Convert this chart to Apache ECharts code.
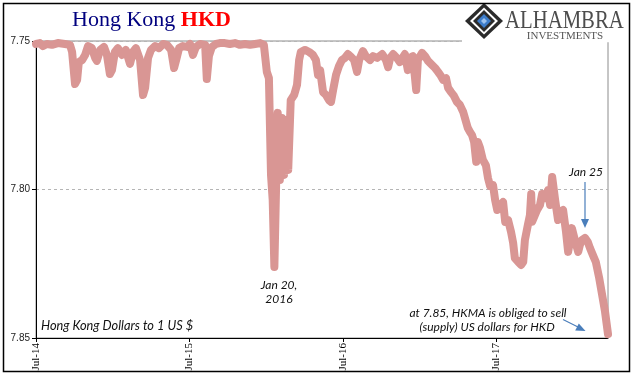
<!DOCTYPE html>
<html>
<head>
<meta charset="utf-8">
<script src="https://cdn.jsdelivr.net/npm/echarts@6/dist/echarts.min.js"></script>
<style>html,body{margin:0;padding:0;background:#fff}#c{width:641px;height:381px}</style>
</head>
<body>
<div id="c"></div>
<script>
const dates = [
'2014-07-01','2014-07-10','2014-07-17','2014-07-27','2014-08-08','2014-08-22','2014-09-08','2014-09-20','2014-09-25','2014-10-02',
'2014-10-07','2014-10-11','2014-10-19','2014-10-26','2014-11-02','2014-11-11','2014-11-19','2014-11-23','2014-12-01','2014-12-10',
'2014-12-17','2014-12-24','2014-12-29','2015-01-05','2015-01-12','2015-01-22','2015-01-31','2015-02-10','2015-02-17','2015-02-24',
'2015-03-06','2015-03-13','2015-03-18','2015-03-25','2015-04-01','2015-04-11','2015-04-20','2015-04-30','2015-05-09','2015-05-19',
'2015-05-26','2015-05-31','2015-06-07','2015-06-16','2015-06-26','2015-07-03','2015-07-10','2015-07-17','2015-07-27','2015-08-08',
'2015-08-12','2015-08-17','2015-08-24','2015-09-03','2015-09-12','2015-09-24','2015-10-06','2015-10-18','2015-10-30','2015-11-11',
'2015-11-23','2015-12-05','2015-12-17','2015-12-26','2016-01-02','2016-01-07','2016-01-12','2016-01-16','2016-01-20','2016-01-26',
'2016-01-28','2016-02-02','2016-02-07','2016-02-12','2016-02-17','2016-02-22','2016-02-28','2016-03-07','2016-03-14','2016-03-19',
'2016-03-23','2016-04-02','2016-04-12','2016-04-21','2016-04-28','2016-05-03','2016-05-08','2016-05-15','2016-05-22','2016-05-29',
'2016-06-03','2016-06-08','2016-06-15','2016-06-22','2016-06-29','2016-07-06','2016-07-13','2016-07-21','2016-07-28','2016-08-04',
'2016-08-09','2016-08-18','2016-08-25','2016-09-04','2016-09-11','2016-09-21','2016-10-03','2016-10-12','2016-10-17','2016-10-22',
'2016-10-29','2016-11-07','2016-11-14','2016-11-26','2016-12-03','2016-12-08','2016-12-15','2016-12-23','2016-12-27','2017-01-06',
'2017-01-13','2017-01-20','2017-01-30','2017-02-06','2017-02-13','2017-02-20','2017-02-25','2017-03-04','2017-03-09','2017-03-16',
'2017-03-23','2017-03-30','2017-04-06','2017-04-14','2017-04-18','2017-04-25','2017-04-30','2017-05-05','2017-05-10','2017-05-15',
'2017-05-19','2017-05-24','2017-05-31','2017-06-07','2017-06-12','2017-06-17','2017-06-24','2017-06-29','2017-07-04','2017-07-11',
'2017-07-18','2017-07-23','2017-07-30','2017-08-06','2017-08-11','2017-08-15','2017-08-23','2017-08-30','2017-09-04','2017-09-08',
'2017-09-15','2017-09-20','2017-09-23','2017-09-25','2017-10-02','2017-10-07','2017-10-14','2017-10-19','2017-10-26','2017-11-02',
'2017-11-07','2017-11-12','2017-11-19','2017-11-26','2017-12-01','2017-12-08','2017-12-15','2017-12-20','2017-12-25','2017-12-29',
'2018-01-05','2018-01-13','2018-01-17','2018-01-22','2018-01-29','2018-02-05','2018-02-10','2018-02-17','2018-02-24','2018-03-04',
'2018-03-11','2018-03-18','2018-03-25'
];
const hkdPerUsd = [
7.7510,7.7507,7.7517,7.7510,7.7513,7.7507,7.7510,7.7513,7.7537,7.7645,
7.7631,7.7571,7.7564,7.7547,7.7517,7.7524,7.7557,7.7567,7.7530,7.7520,
7.7547,7.7611,7.7598,7.7537,7.7524,7.7547,7.7530,7.7577,7.7537,7.7524,
7.7564,7.7682,7.7658,7.7557,7.7530,7.7517,7.7524,7.7510,7.7513,7.7530,
7.7591,7.7564,7.7524,7.7517,7.7520,7.7510,7.7547,7.7520,7.7510,7.7513,
7.7628,7.7551,7.7520,7.7510,7.7507,7.7507,7.7510,7.7507,7.7513,7.7510,
7.7513,7.7510,7.7507,7.7513,7.7604,7.7625,7.7951,7.8035,7.8261,7.7867,
7.7742,7.7968,7.7759,7.7951,7.7766,7.7934,7.7699,7.7682,7.7648,7.7564,
7.7537,7.7530,7.7537,7.7547,7.7564,7.7614,7.7598,7.7672,7.7682,7.7699,
7.7705,7.7665,7.7614,7.7584,7.7564,7.7557,7.7544,7.7554,7.7564,7.7604,
7.7564,7.7534,7.7551,7.7564,7.7551,7.7557,7.7544,7.7564,7.7588,7.7557,
7.7544,7.7557,7.7571,7.7544,7.7598,7.7557,7.7551,7.7665,7.7564,7.7540,
7.7551,7.7567,7.7581,7.7591,7.7604,7.7618,7.7631,7.7625,7.7658,7.7672,
7.7685,7.7705,7.7715,7.7739,7.7759,7.7793,7.7806,7.7817,7.7840,7.7907,
7.7840,7.7860,7.7901,7.7918,7.7961,7.7988,7.7985,7.8035,7.8069,7.8052,
7.8042,7.8109,7.8103,7.8143,7.8180,7.8231,7.8244,7.8254,7.8244,7.8170,
7.8120,7.8086,7.8015,7.8109,7.8086,7.8069,7.8052,7.8015,7.8029,7.8002,
7.8052,7.7958,7.8035,7.8103,7.8076,7.8069,7.8143,7.8210,7.8170,7.8130,
7.8170,7.8210,7.8187,7.8170,7.8163,7.8177,7.8197,7.8221,7.8244,7.8298,
7.8355,7.8412,7.8487
];
const tickDates = ['2014-07-01','2015-07-01','2016-07-01','2017-07-01'];
const tickLabels = ['Jul-14','Jul-15','Jul-16','Jul-17'];

function toTime(s){ return Date.UTC(+s.slice(0,4), +s.slice(5,7)-1, +s.slice(8,10)); }
const seriesData = dates.map((d,i)=>[toTime(d), hkdPerUsd[i]]);
const tickTimes = tickDates.map(toTime);

const chart = echarts.init(document.getElementById('c'), null, {renderer:'canvas'});
const blue = '#4a7ebb';
const annFont = 'Lato, "Liberation Sans", sans-serif';
function txt(x, y, text, align, size){
  return {type:'text', x:x, y:y, z:120, silent:true, style:{
    text:text, fontFamily:annFont, fontSize:size||12, fontStyle:'italic', fill:'#111',
    align:align, textAlign:align, verticalAlign:'middle', textVerticalAlign:'middle'}};
}
chart.setOption({
  animation:false,
  title:{
    text:'{a|Hong Kong} {b|HKD}', left:72, top:9, padding:0,
    textStyle:{fontFamily:'"Liberation Serif", serif', fontSize:22, fontWeight:'normal',
      rich:{
        a:{fontFamily:'"Liberation Serif", serif', fontSize:22, fontWeight:'normal', color:'#00007f'},
        b:{fontFamily:'"Liberation Serif", serif', fontSize:22, fontWeight:'bold', color:'#ff0000'}
      }}
  },
  grid:{left:36, right:33, top:41, bottom:43, show:true, borderColor:'#8c8c8c', borderWidth:1, backgroundColor:'transparent'},
  xAxis:{
    type:'value', min:toTime(dates[0]), max:toTime(dates[dates.length-1]),
    axisLine:{lineStyle:{color:'#000', width:1}},
    axisTick:{show:true, length:4, customValues:tickTimes, lineStyle:{color:'#000'}},
    axisLabel:{customValues:tickTimes, rotate:90, margin:5, color:'#000',
      fontFamily:'"Liberation Serif", serif', fontSize:11,
      formatter:function(v){ const i = tickTimes.indexOf(v); return i>=0 ? tickLabels[i] : ''; }},
    splitLine:{show:false}
  },
  yAxis:{
    type:'value', inverse:true, min:7.75, max:7.85, interval:0.05,
    axisLine:{show:true, lineStyle:{color:'#000', width:1}},
    axisTick:{show:true, length:4, lineStyle:{color:'#000'}},
    axisLabel:{margin:6, color:'#222', fontFamily:'"Liberation Sans", sans-serif', fontSize:10,
      formatter:function(v){ return v.toFixed(2); }},
    splitLine:{show:true, lineStyle:{color:'#b5b5b5', type:[3,3], width:1}}
  },
  series:[{
    type:'line', data:seriesData, showSymbol:false, symbol:'none',
    lineStyle:{color:'#d99694', width:8, join:'round', cap:'round'},
    z:3
  }],
  graphic:[
    {type:'rect', z:100, silent:true, shape:{x:462, y:4.5, width:166, height:37.8}, style:{fill:'#fff'}},
    {type:'polygon', z:101, silent:true, shape:{points:[[484,3],[503,21],[484,39],[465,21]]}, style:{fill:'#2b2b2b'}},
    {type:'polygon', z:102, silent:true, shape:{points:[[484,7.5],[498,21],[484,34.5],[470,21]]}, style:{fill:'#fff'}},
    {type:'polygon', z:103, silent:true, shape:{points:[[484,10],[495,21],[484,32],[473,21]]}, style:{fill:'#2b2b2b'}},
    {type:'polygon', z:104, silent:true, shape:{points:[[484,14],[491,21],[484,28],[477,21]]}, style:{fill:'#3d7cc9'}},
    {type:'polygon', z:105, silent:true, shape:{points:[[484,18],[487,21],[484,24],[481,21]]}, style:{fill:'#9ec3ee'}},
    {type:'text', z:106, silent:true, x:505, y:21.5, scaleX:0.83, style:{text:'ALHAMBRA', fontFamily:'"Liberation Serif", serif', fontSize:25, fill:'#4d4d4d', align:'left', textAlign:'left', verticalAlign:'middle', textVerticalAlign:'middle'}},
    {type:'text', z:106, silent:true, x:565, y:36.5, style:{text:'INVESTMENTS', fontFamily:'"Liberation Serif", serif', fontSize:11, fill:'#555', align:'center', textAlign:'center', verticalAlign:'middle', textVerticalAlign:'middle'}},
    txt(41, 326, 'Hong Kong Dollars to 1 US $', 'left', 12.8),
    txt(279, 285, 'Jan 20,', 'center'),
    txt(279, 299, '2016', 'center'),
    txt(586, 172, 'Jan 25', 'center'),
    txt(488, 313, 'at 7.85, HKMA is obliged to sell', 'center'),
    txt(487, 327, '(supply) US dollars for HKD', 'center'),
    {type:'line', z:110, silent:true, shape:{x1:585, y1:182, x2:585, y2:221}, style:{stroke:blue, lineWidth:1.2}},
    {type:'polygon', z:110, silent:true, shape:{points:[[581,219],[589,219],[585,228]]}, style:{fill:blue}},
    {type:'line', z:110, silent:true, shape:{x1:563, y1:319.5, x2:578, y2:327}, style:{stroke:blue, lineWidth:1.2}},
    {type:'polygon', z:110, silent:true, shape:{points:[[575.2,330.6],[578.8,323.4],[585.5,331]]}, style:{fill:blue}},
    {type:'rect', z:200, silent:true, shape:{x:3.5, y:3.5, width:626, height:368}, style:{fill:'none', stroke:'#000', lineWidth:1.5}}
  ]
});
</script>
</body>
</html>
